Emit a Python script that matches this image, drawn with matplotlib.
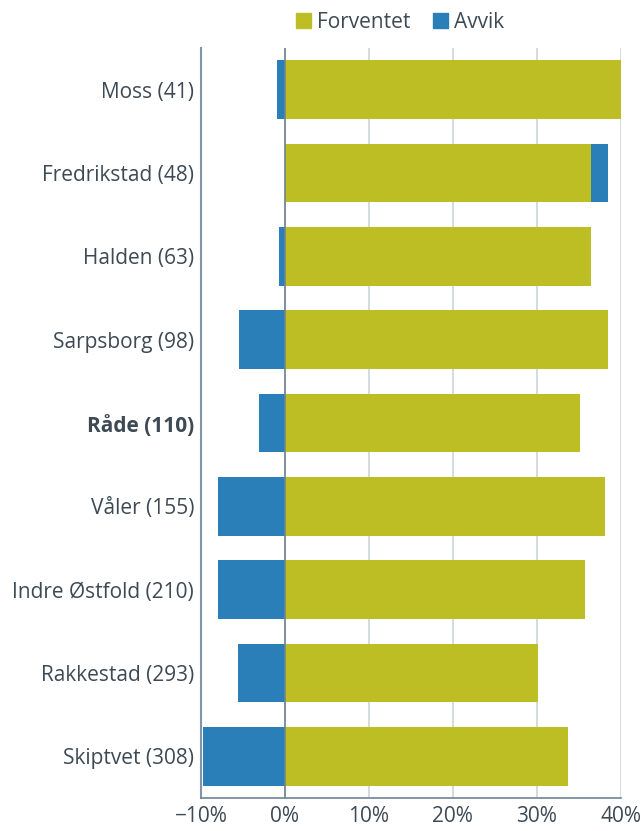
import matplotlib
matplotlib.use("Agg")
import matplotlib.pyplot as plt
from matplotlib.patches import Patch
import numpy as np

plt.rcParams["font.family"] = ["Open Sans", "DejaVu Sans"]

# data (percent)
kommuner = [
    "Moss (41)",
    "Fredrikstad (48)",
    "Halden (63)",
    "Sarpsborg (98)",
    "Råde (110)",
    "Våler (155)",
    "Indre Østfold (210)",
    "Rakkestad (293)",
    "Skiptvet (308)",
]
forventet = [40.0, 36.5, 36.5, 38.5, 35.2, 38.1, 35.8, 30.2, 33.7]
avvik = [-1.0, 2.0, -0.7, -5.5, -3.1, -8.0, -8.0, -5.6, -9.8]
xticks = [-10, 0, 10, 20, 30, 40]
xticklabels = ["\u221210%", "0%", "10%", "20%", "30%", "40%"]
highlight = "Råde (110)"

GREEN = "#bdbe24"
BLUE = "#2a7fb8"
TEXT = "#3d4a54"

fig = plt.figure(figsize=(6.41, 8.31), dpi=100)
ax = fig.add_axes([0.3136, 0.0397, 0.6547, 0.9025])

y = np.arange(len(kommuner))
h = 0.705

ax.barh(y, forventet, height=h, color=GREEN, zorder=3)
# avvik: negative goes left from zero, positive is stacked after forventet
av_left = [f if a > 0 else 0 for f, a in zip(forventet, avvik)]
ax.barh(y, avvik, left=av_left, height=h, color=BLUE, zorder=3)

ax.set_xlim(-10, 40)
ax.set_ylim(len(kommuner) - 0.5, -0.5)
ax.set_xticks(xticks)
ax.set_xticklabels(xticklabels)
ax.set_yticks(y)
ax.set_yticklabels(kommuner)

for lbl in ax.get_yticklabels():
    if lbl.get_text() == highlight:
        lbl.set_fontweight("bold")

ax.tick_params(axis="both", length=0, labelsize=15, colors=TEXT)
ax.tick_params(axis="y", pad=5)
ax.tick_params(axis="x", pad=6)

ax.grid(axis="x", color="#cdd6dc", linewidth=1.2, zorder=0)
ax.axvline(0, color="#6f8494", linewidth=1.2, zorder=4)

for s in ["top", "right"]:
    ax.spines[s].set_visible(False)
ax.spines["left"].set_color("#8096a6")
ax.spines["left"].set_linewidth(1.5)
ax.spines["bottom"].set_color("#6f8494")
ax.spines["bottom"].set_linewidth(1.2)

handles = [Patch(color=GREEN, label="Forventet"), Patch(color=BLUE, label="Avvik")]
fig.legend(handles=handles, loc="center", bbox_to_anchor=(0.624, 0.9735), ncol=2,
           frameon=False, fontsize=15, handlelength=0.7, handleheight=0.7,
           handletextpad=0.3, columnspacing=1.1, labelcolor=TEXT)

fig.savefig("out.png", dpi=100)
